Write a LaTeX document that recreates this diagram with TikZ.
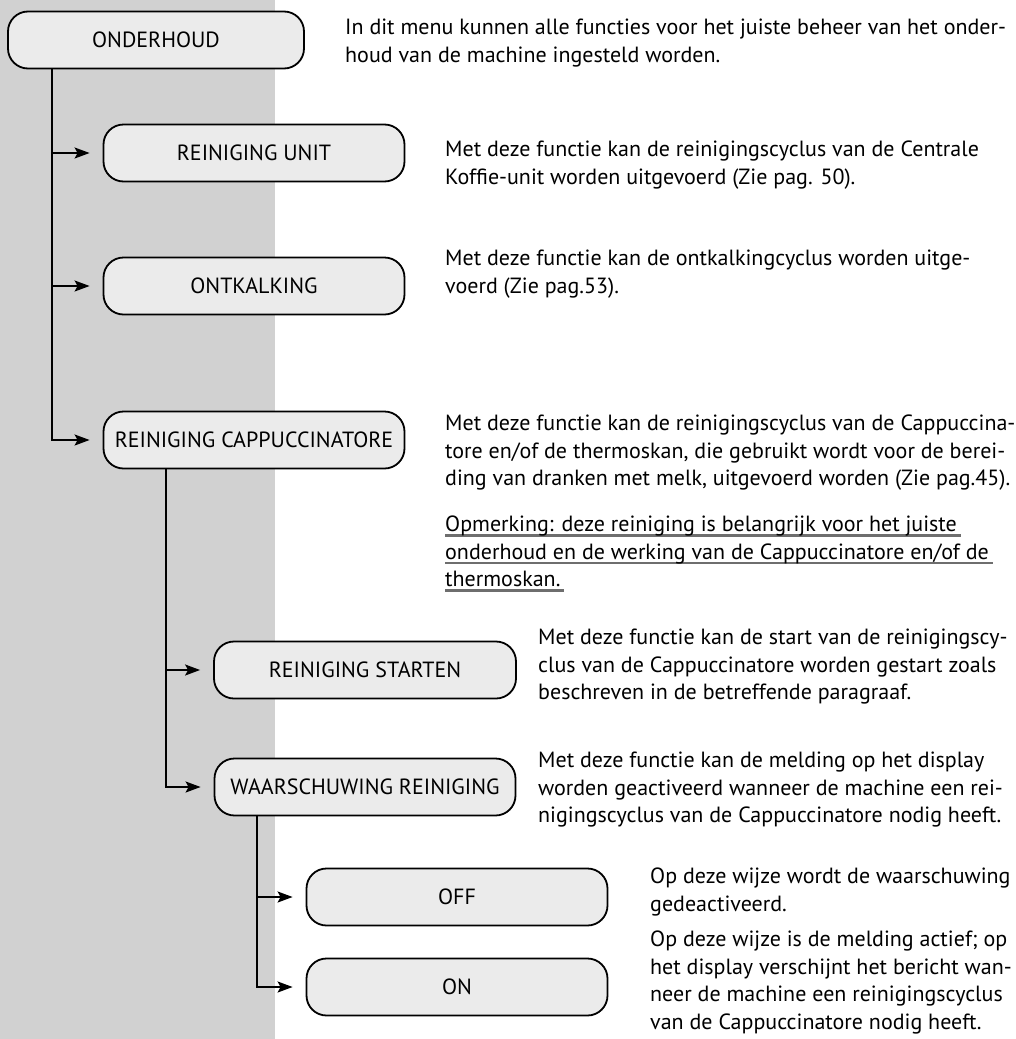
\documentclass[tikz,border=0pt]{standalone}
\usepackage{fontspec}
\setmainfont{PT Sans}
\usetikzlibrary{arrows.meta}
\definecolor{colgray}{HTML}{D1D1D1}
\definecolor{boxfill}{HTML}{EBEBEB}
\definecolor{ulgray}{HTML}{6E6E6E}
\newcommand\myul[1]{\setbox0\hbox{#1}\rlap{\textcolor{ulgray}{\rule[-5pt]{\dimexpr\wd0+4pt\relax}{2.6pt}}}\box0}
\tikzset{
  menubox/.style={draw=black, line width=1.8pt, fill=boxfill, rounded corners=20pt,
    minimum height=57pt, inner sep=0pt, font=\fontsize{22}{24}\selectfont},
  desc/.style={anchor=north west, inner sep=0pt, align=left, font=\fontsize{22}{27.5}\selectfont},
  conn/.style={line width=1.8pt, line join=miter},
  arr/.style={conn, -{Stealth[length=15pt,width=11pt,inset=3pt]}, shorten >=13pt}
}
\begin{document}
\begin{tikzpicture}[x=1pt,y=-1pt]
\useasboundingbox (0,0) rectangle (1016,1039);
\fill[colgray] (0,0) rectangle (275,1039);
% boxes
\node[menubox, minimum width=296pt] (onderhoud) at (156,40) {ONDERHOUD};
\node[menubox, minimum width=301pt] (unit) at (254,153) {REINIGING UNIT};
\node[menubox, minimum width=301pt] (ontk) at (254,286) {ONTKALKING};
\node[menubox, minimum width=301pt] (capp) at (254,440) {REINIGING CAPPUCCINATORE};
\node[menubox, minimum width=302pt] (start) at (365,670) {REINIGING STARTEN};
\node[menubox, minimum width=301pt] (waarsch) at (365,787) {WAARSCHUWING REINIGING};
\node[menubox, minimum width=301pt] (off) at (457,897) {OFF};
\node[menubox, minimum width=301pt] (on) at (457,987) {ON};
% trunks
\coordinate (t1) at (52,0);
\coordinate (t2) at (166,0);
\coordinate (t3) at (257,0);
\draw[arr] (onderhoud.south -| t1) |- (capp.west);
\draw[arr] (unit.west -| t1) -- (unit.west);
\draw[arr] (ontk.west -| t1) -- (ontk.west);
\draw[arr] (capp.south -| t2) |- (waarsch.west);
\draw[arr] (start.west -| t2) -- (start.west);
\draw[arr] (waarsch.south -| t3) |- (on.west);
\draw[arr] (off.west -| t3) -- (off.west);
% descriptions
\node[desc] (d1) at (345,19) {In dit menu kunnen alle functies voor het juiste beheer van het onder-\\houd van de machine ingesteld worden.};
\node[desc] (d2) at (445,141) {Met deze functie kan de reinigingscyclus van de Centrale\\Koffie-unit worden uitgevoerd (Zie pag. 50).};
\node[desc] (d3) at (445,250) {Met deze functie kan de ontkalkingcyclus worden uitge-\\voerd (Zie pag.53).};
\node[desc] (d4) at (445,415) {Met deze functie kan de reinigingscyclus van de Cappuccina-\\tore en/of de thermoskan, die gebruikt wordt voor de berei-\\ding van dranken met melk, uitgevoerd worden (Zie pag.45).};
\node[desc] (d5) at (445,516) {\myul{Opmerking: deze reiniging is belangrijk voor het juiste}\\\myul{onderhoud en de werking van de Cappuccinatore en/of de}\\\myul{thermoskan.}};
\node[desc] (d6) at (538,629) {Met deze functie kan de start van de reinigingscy-\\clus van de Cappuccinatore worden gestart zoals\\beschreven in de betreffende paragraaf.};
\node[desc] (d7) at (538,752) {Met deze functie kan de melding op het display\\worden geactiveerd wanneer de machine een rei-\\nigingscyclus van de Cappuccinatore nodig heeft.};
\node[desc] (d8) at (650,868) {Op deze wijze wordt de waarschuwing\\gedeactiveerd.};
\node[desc] (d9) at (650,931) {Op deze wijze is de melding actief; op\\het display verschijnt het bericht wan-\\neer de machine een reinigingscyclus\\van de Cappuccinatore nodig heeft.};
\end{tikzpicture}
\end{document}
